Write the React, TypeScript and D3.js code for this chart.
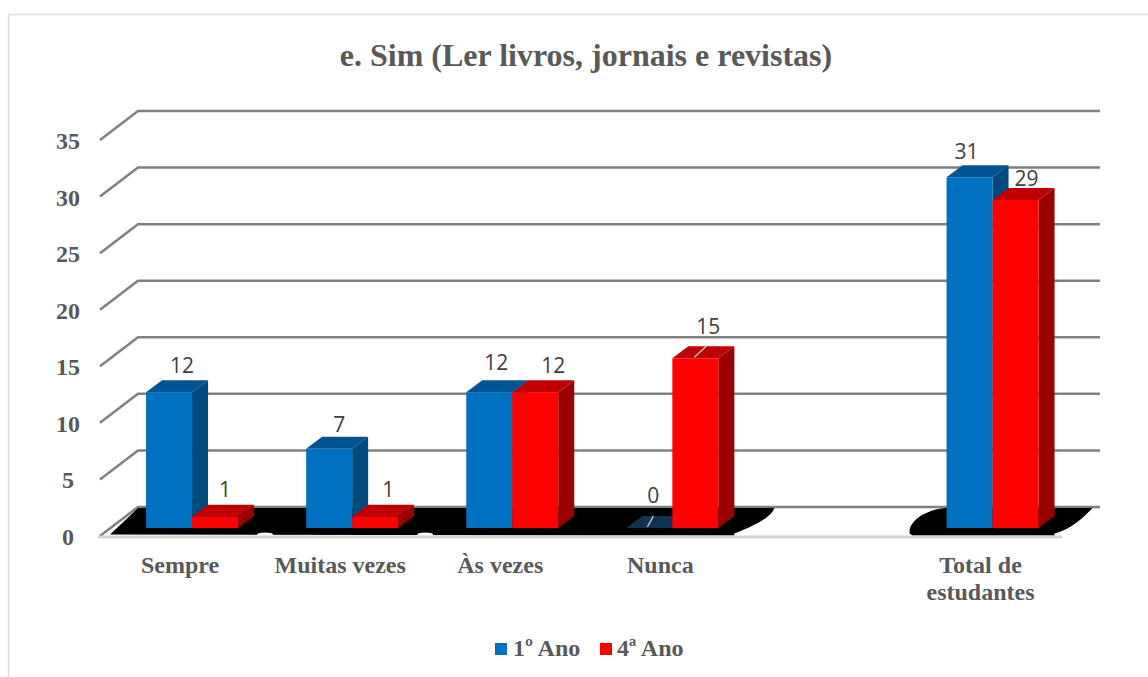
import React from "react";
import * as d3 from "d3";

const categories = ["Sempre", "Muitas vezes", "Às vezes", "Nunca", "", "Total de estudantes"];
const categoryLines = [["Sempre"], ["Muitas vezes"], ["Às vezes"], ["Nunca"], [], ["Total de", "estudantes"]];
const series1 = [12, 7, 12, 0, null, 31];
const series2 = [1, 1, 12, 15, null, 29];
const seriesNames = ["1º Ano", "4ª Ano"];
const yTicks = [0, 5, 10, 15, 20, 25, 30, 35];

// Label placement nudges, as in the original's hand-moved data labels
const labelDx1 = [-10, -13, -16, -19, 0, -26];
const labelDy1 = [-19, -17, -22, -25, 0, -18];
const labelDx2 = [33, 36, 41, 36, 0, 34];
const labelDy2 = [-20, -20, -19, -24, 0, -14];

const W = 1148, H = 677;
const DX = 16, DY = -12;
const BACK_X = 40, BACK_Y = -29;
const serif = "'Liberation Serif', serif";
const sans = "'Open Sans', sans-serif";
const GRAY = "#595959";

const x = d3.scaleBand<number>().domain(d3.range(categories.length)).range([112, 1072.6]);
const y = d3.scaleLinear().domain([0, 35]).range([528, 132]);
const axisY = d3.scaleLinear().domain([0, 35]).range([536, 140]);
const AXIS_X = 98;
const GRID_END = 1100;

const colors = [
  { front: "#0070c0", top: "#005493", side: "#004a80" },
  { front: "#ff0000", top: "#bf0000", side: "#990000" },
];

function Bar({ bx, w, v, c }: { bx: number; w: number; v: number; c: typeof colors[0] }) {
  const top = y(v), base = y(0);
  return (
    <g>
      <path d={`M${bx + w},${top}l${DX},${DY}V${base + DY}l${-DX},${-DY}Z`} fill={c.side} />
      <path d={`M${bx},${top}l${DX},${DY}h${w}l${-DX},${-DY}Z`} fill={v === 0 ? "#0f3350" : c.top} />
      {v > 0 && <rect x={bx} y={top} width={w} height={base - top} fill={c.front} />}
    </g>
  );
}

export default function App() {
  const groupW = 46;
  const ft = axisY(0) + BACK_Y + 1;
  const fb = axisY(0) - 0.5;
  const cx = (i: number) => x(i)! + x.bandwidth() / 2;
  const a = cx(0), b = cx(3), c = cx(5);
  return (
    <svg width={W} height={H} style={{ position: "absolute", left: 0, top: 0, background: "#fff" }}>
      <path d={`M8.5,${H}V14.5H${W}`} fill="none" stroke="#dedede" strokeWidth={1.5} />
      <text x={586} y={66} textAnchor="middle" fontFamily={serif} fontWeight={700} fontSize={32} fill={GRAY}>
        e. Sim (Ler livros, jornais e revistas)
      </text>

      {yTicks.map((t) => (
        <g key={t}>
          <path
            d={`M${AXIS_X + 2},${axisY(t)}L${AXIS_X + BACK_X},${axisY(t) + BACK_Y}H${GRID_END}`}
            fill="none"
            stroke="#808080"
            strokeWidth={2.5}
          />
          <text x={68} y={axisY(t) + 9} textAnchor="middle" fontFamily={serif} fontWeight={700} fontSize={24} fill={GRAY}>
            {t}
          </text>
        </g>
      ))}

      {/* floor shadow, first blob */}
      <path
        d={`M${a - 82},${fb - 1}L${a - 54},${ft}H${b + 102}
            C${b + 100},${ft + 6} ${b + 92},${ft + 14} ${b + 62},${fb - 2}V${fb}Z`}
        fill="#000"
      />
      {/* floor shadow, second blob */}
      <path
        d={`M${c - 83},${fb - 2}C${c - 84},${ft + 12} ${c - 66},${ft + 2} ${c - 48},${ft}H${c + 100}
            C${c + 92},${ft + 8} ${c + 80},${ft + 21} ${c + 62},${fb - 2}V${fb}H${c - 80}Z`}
        fill="#000"
      />
      {/* small nicks along the floor's lower edge */}
      {[1, 2].map((i) => (
        <ellipse key={i} cx={x(i)! - 7} cy={fb - 1} rx={8} ry={2} fill="#fff" />
      ))}

      <line x1={AXIS_X} x2={1062} y1={axisY(0) + 1} y2={axisY(0) + 1} stroke="#d4d4d4" strokeWidth={3} />

      {categories.map((_, i) => {
        const v1 = series1[i], v2 = series2[i];
        if (v1 === null || v2 === null) return null;
        return (
          <g key={i}>
            <Bar bx={cx(i) - groupW} w={groupW} v={v1} c={colors[0]} />
            <Bar bx={cx(i)} w={groupW} v={v2} c={colors[1]} />
          </g>
        );
      })}

      {categories.map((_, i) => {
        const v1 = series1[i], v2 = series2[i];
        if (v1 === null || v2 === null) return null;
        return (
          <g key={i} fontFamily={sans} fontSize={21} fill="#404040" textAnchor="middle">
            <text x={cx(i) + labelDx1[i]} y={y(v1) + labelDy1[i]}>{v1}</text>
            <text x={cx(i) + labelDx2[i]} y={y(v2) + labelDy2[i]}>{v2}</text>
            {v1 === 0 && <line x1={cx(i) - 25} y1={y(0) - 1} x2={cx(i) - 19} y2={y(0) - 12} stroke="#bfbfbf" strokeWidth={1.5} />}
            {v2 === 15 && <line x1={cx(i) + 22} y1={y(v2) - 1} x2={cx(i) + 35} y2={y(v2) - 13} stroke="#bfbfbf" strokeWidth={1.5} />}
          </g>
        );
      })}

      {categoryLines.map((lines, i) => (
        <text key={i} textAnchor="middle" fontFamily={serif} fontWeight={700} fontSize={24} fill={GRAY}>
          {lines.map((l, k) => (
            <tspan key={k} x={cx(i) - 12} y={573 + k * 27}>{l}</tspan>
          ))}
        </text>
      ))}

      {seriesNames.map((n, i) => {
        const lx = [495, 600][i];
        const tx = [513, 617][i];
        return (
          <g key={n}>
            <rect x={lx} y={643} width={12} height={12} fill={colors[i].front} />
            <text x={tx} y={656} fontFamily={serif} fontWeight={700} fontSize={24} fill={GRAY}>{n}</text>
          </g>
        );
      })}
    </svg>
  );
}
